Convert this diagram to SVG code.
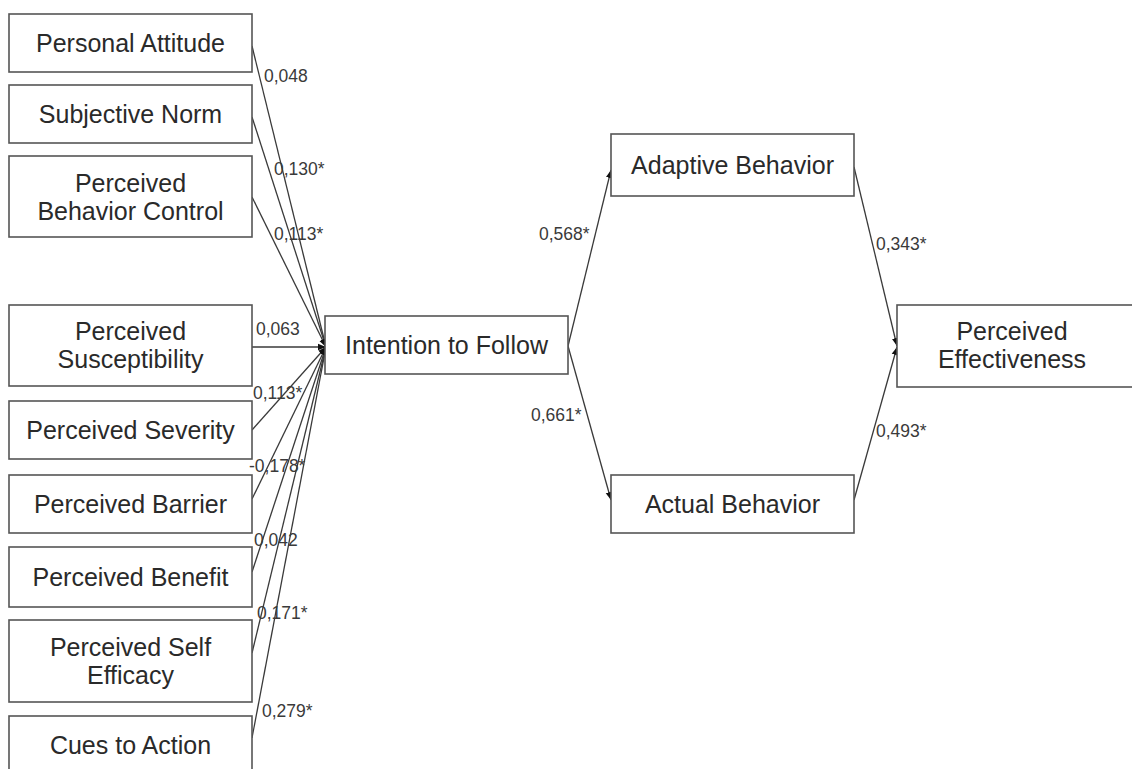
<svg xmlns="http://www.w3.org/2000/svg" width="1132" height="769" viewBox="0 0 1132 769">
<style>
.box{fill:#fff;stroke:#555;stroke-width:1.6}
.t{font-family:"Liberation Sans",Arial,sans-serif;font-size:25px;fill:#2a2a2a;text-anchor:middle}
.l{font-family:"Liberation Sans",Arial,sans-serif;font-size:17.5px;fill:#3a3a3a}
.c{stroke:#3a3a3a;stroke-width:1.3;fill:none;marker-end:url(#ah)}
</style>
<defs>
<marker id="ah" markerUnits="userSpaceOnUse" markerWidth="9" markerHeight="8" refX="8" refY="4" orient="auto">
<path d="M0,0.8 L8,4 L0,7.2 Z" fill="#111"/>
</marker>
</defs>
<rect width="1132" height="769" fill="#fff"/>
<g id="connectors">
<line class="c" x1="252" y1="46" x2="326" y2="347"/>
<line class="c" x1="252" y1="117" x2="326" y2="347"/>
<line class="c" x1="252" y1="197" x2="326" y2="347"/>
<line class="c" x1="252" y1="347" x2="326" y2="347"/>
<line class="c" x1="252" y1="430" x2="326" y2="347"/>
<line class="c" x1="252" y1="499" x2="326" y2="347"/>
<line class="c" x1="252" y1="572" x2="326" y2="347"/>
<line class="c" x1="252" y1="653" x2="326" y2="347"/>
<line class="c" x1="252" y1="738" x2="326" y2="347"/>
<line class="c" x1="568" y1="346" x2="611" y2="170"/>
<line class="c" x1="568" y1="346" x2="611" y2="500"/>
<line class="c" x1="854" y1="167" x2="897" y2="346"/>
<line class="c" x1="854" y1="500" x2="897" y2="347"/>
</g>
<g id="edge-labels">
<text class="l" x="264" y="82">0,048</text>
<text class="l" x="274" y="175">0,130*</text>
<text class="l" x="274" y="240">0,113*</text>
<text class="l" x="256" y="335">0,063</text>
<text class="l" x="253" y="399">0,113*</text>
<text class="l" x="249" y="472">-0,178*</text>
<text class="l" x="254" y="546">0,042</text>
<text class="l" x="257" y="619">0,171*</text>
<text class="l" x="262" y="717">0,279*</text>
<text class="l" x="539" y="240">0,568*</text>
<text class="l" x="531" y="421">0,661*</text>
<text class="l" x="876" y="250">0,343*</text>
<text class="l" x="876" y="437">0,493*</text>
</g>
<g id="personal-attitude"><rect class="box" x="9" y="14" width="243" height="58"/><text class="t" x="130.5" y="52">Personal Attitude</text></g>
<g id="subjective-norm"><rect class="box" x="9" y="85" width="243" height="58"/><text class="t" x="130.5" y="123">Subjective Norm</text></g>
<g id="perceived-behavior-control"><rect class="box" x="9" y="156" width="243" height="81"/><text class="t" x="130.5" y="192">Perceived</text><text class="t" x="130.5" y="220">Behavior Control</text></g>
<g id="perceived-susceptibility"><rect class="box" x="9" y="305" width="243" height="81"/><text class="t" x="130.5" y="340">Perceived</text><text class="t" x="130.5" y="368">Susceptibility</text></g>
<g id="perceived-severity"><rect class="box" x="9" y="401" width="243" height="58"/><text class="t" x="130.5" y="439">Perceived Severity</text></g>
<g id="perceived-barrier"><rect class="box" x="9" y="475" width="243" height="58"/><text class="t" x="130.5" y="513">Perceived Barrier</text></g>
<g id="perceived-benefit"><rect class="box" x="9" y="547" width="243" height="60"/><text class="t" x="130.5" y="586">Perceived Benefit</text></g>
<g id="perceived-self-efficacy"><rect class="box" x="9" y="620" width="243" height="82"/><text class="t" x="130.5" y="656">Perceived Self</text><text class="t" x="130.5" y="684">Efficacy</text></g>
<g id="cues-to-action"><rect class="box" x="9" y="716" width="243" height="70"/><text class="t" x="130.5" y="754">Cues to Action</text></g>
<g id="intention-to-follow"><rect class="box" x="325" y="316" width="243" height="58"/><text class="t" x="446.5" y="354">Intention to Follow</text></g>
<g id="adaptive-behavior"><rect class="box" x="611" y="134" width="243" height="62"/><text class="t" x="732.5" y="174">Adaptive Behavior</text></g>
<g id="actual-behavior"><rect class="box" x="611" y="475" width="243" height="58"/><text class="t" x="732.5" y="513">Actual Behavior</text></g>
<g id="perceived-effectiveness"><rect class="box" x="897" y="305" width="250" height="82"/><text class="t" x="1012" y="340">Perceived</text><text class="t" x="1012" y="368">Effectiveness</text></g>
</svg>
